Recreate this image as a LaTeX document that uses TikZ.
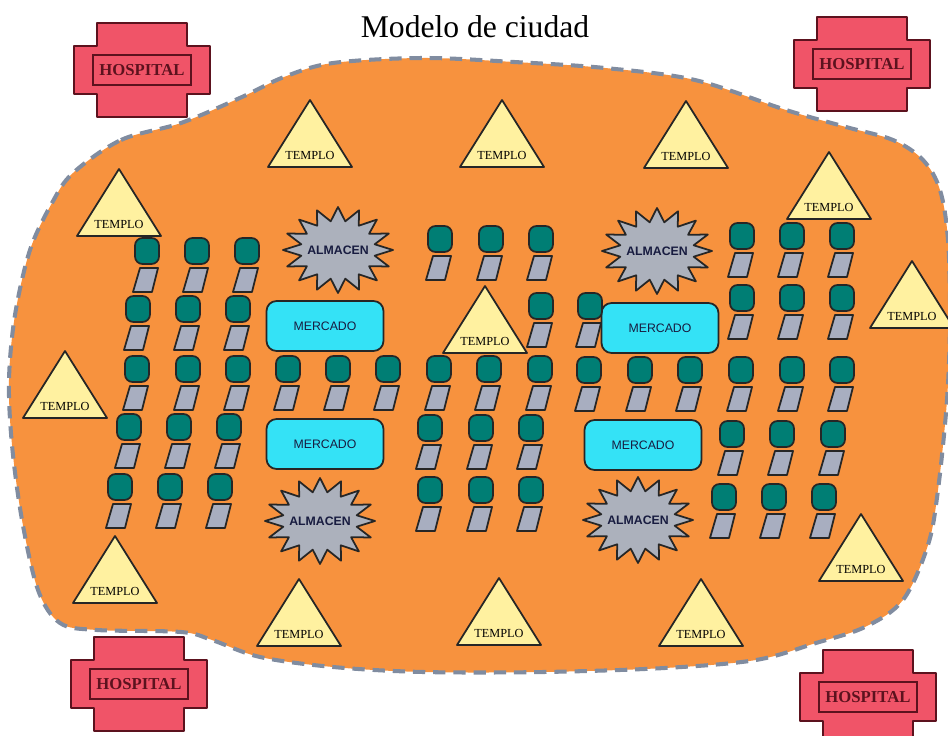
\documentclass[tikz,border=0pt]{standalone}
\usepackage{fontspec}
\setmainfont{Liberation Serif}
\setsansfont{Liberation Sans}

\definecolor{naranja}{RGB}{247,146,62}
\definecolor{bordezona}{RGB}{128,140,160}
\definecolor{verdecasa}{RGB}{0,126,116}
\definecolor{gristecho}{RGB}{168,174,192}
\definecolor{grisalmacen}{RGB}{172,177,188}
\definecolor{cian}{RGB}{52,226,246}
\definecolor{amarillo}{RGB}{255,241,160}
\definecolor{rojohosp}{RGB}{240,84,104}
\definecolor{granate}{RGB}{92,18,30}
\definecolor{tinta}{RGB}{24,28,64}

\tikzset{
  linea/.style={draw=black!85, line width=1pt, line join=round},
  zona/.style={fill=naranja, draw=bordezona, line width=2.3pt, dash pattern=on 7pt off 4.5pt},
  mercado/.style={linea, fill=cian, rounded corners=0.2cm, minimum width=2.34cm,
    minimum height=1cm, font=\sffamily\fontsize{7}{8}\selectfont, text=tinta},
  casa/.pic={
    \draw[linea, fill=verdecasa, rounded corners=0.15cm] (-12,-13) rectangle (12,13);
    \draw[linea, fill=gristecho] (-7,17) -- (11,17) -- (5,41) -- (-14,41) -- cycle;
  },
  templo/.pic={
    \draw[linea, fill=amarillo] (-42,0) -- (0,-67) -- (42,0) -- cycle;
    \node[font=\fontsize{7}{8}\selectfont] (-t) at (0,-12) {TEMPLO};
  },
  almacen/.pic={
    \draw[linea, fill=grisalmacen] plot[samples at={0,...,31}]
      ({55*(1-0.32*mod(\x,2))*cos(11.25*\x)}, {43*(1-0.32*mod(\x,2))*sin(11.25*\x)}) -- cycle;
    \node[font=\sffamily\bfseries\fontsize{7}{8}\selectfont, text=tinta] (-t) {ALMACEN};
  },
  hospital/.pic={
    \draw[linea, draw=granate, fill=rojohosp]
         (-45,-47) -- (45,-47) -- (45,-24) -- (68,-24) -- (68,24) -- (45,24)
      -- (45,47) -- (-45,47) -- (-45,24) -- (-68,24) -- (-68,-24) -- (-45,-24) -- cycle;
    \node[draw=granate, line width=1pt, minimum width=1.96cm, minimum height=0.6cm,
      font=\bfseries\fontsize{9.5}{10}\selectfont, text=granate] (-t) {HOSPITAL};
  }
}

\begin{document}
\begin{tikzpicture}[x=0.02cm, y=-0.02cm]
\useasboundingbox (0,0) rectangle (948,736);

\node[font=\fontsize{18}{20}\selectfont] (titulo) at (475,27) {Modelo de ciudad};

% ciudad
\draw[zona] plot[smooth cycle, tension=0.55] coordinates {
  (73,173) (121,140) (181,123) (242,97) (284,77) (333,63) (423,58) (514,62)
  (605,68) (695,80) (786,110) (846,127) (893,140) (923,160) (940,190)
  (948,240) (950,320) (947,400) (938,490) (928,545) (903,600) (865,627)
  (816,643) (756,660) (665,668) (544,672) (423,672) (333,667) (260,657)
  (212,640) (181,632) (97,630) (60,623) (38,590) (22,520) (12,445)
  (9,380) (15,315) (30,250) (52,203)};

%%%%%%%%%%%%%%%%%%%%%%%%%%%%%%%%%%%%%%%%

\pic (h1) at (142,70)  {hospital};
\pic (h2) at (862,64)  {hospital};
\pic (h3) at (139,684) {hospital};
\pic (h4) at (868,697) {hospital};

\pic (t1)  at (310,167) {templo};
\pic (t2)  at (502,167) {templo};
\pic (t3)  at (686,168) {templo};
\pic (t4)  at (829,219) {templo};
\pic (t5)  at (119,236) {templo};
\pic (t6)  at (912,328) {templo};
\pic (t7)  at (485,353) {templo};
\pic (t8)  at (65,418)  {templo};
\pic (t9)  at (115,603) {templo};
\pic (t10) at (299,646) {templo};
\pic (t11) at (499,645) {templo};
\pic (t12) at (701,646) {templo};
\pic (t13) at (861,581) {templo};

\pic (a1) at (338,250) {almacen};
\pic (a2) at (320,521) {almacen};
\pic (a3) at (657,251) {almacen};
\pic (a4) at (638,520) {almacen};

\node[mercado] (m1) at (325,326) {MERCADO};
\node[mercado] (m2) at (325,444) {MERCADO};
\node[mercado] (m3) at (660,328) {MERCADO};
\node[mercado] (m4) at (643,445) {MERCADO};

%%%%%%%%%%%%%%%%%%%%%%%%%%%%%%%%%%%%%%%%

\foreach \cx/\cy [count=\i] in {
    147/251, 197/251, 247/251,
    138/309, 188/309, 238/309,
    137/369, 188/369, 238/369, 288/369, 338/369, 388/369,
    129/427, 179/427, 229/427,
    120/487, 170/487, 220/487,
    440/239, 491/239, 541/239,
    541/306, 590/306,
    439/369, 489/369, 540/369, 589/370,
    430/428, 481/428, 531/428,
    430/490, 481/490, 531/490,
    742/236, 792/236, 842/236,
    742/298, 792/298, 842/298,
    640/370, 690/370, 741/370, 792/370, 842/370,
    732/434, 782/434, 833/434,
    724/497, 774/497, 824/497}
  \pic (c\i) at (\cx,\cy) {casa};
\end{tikzpicture}
\end{document}
